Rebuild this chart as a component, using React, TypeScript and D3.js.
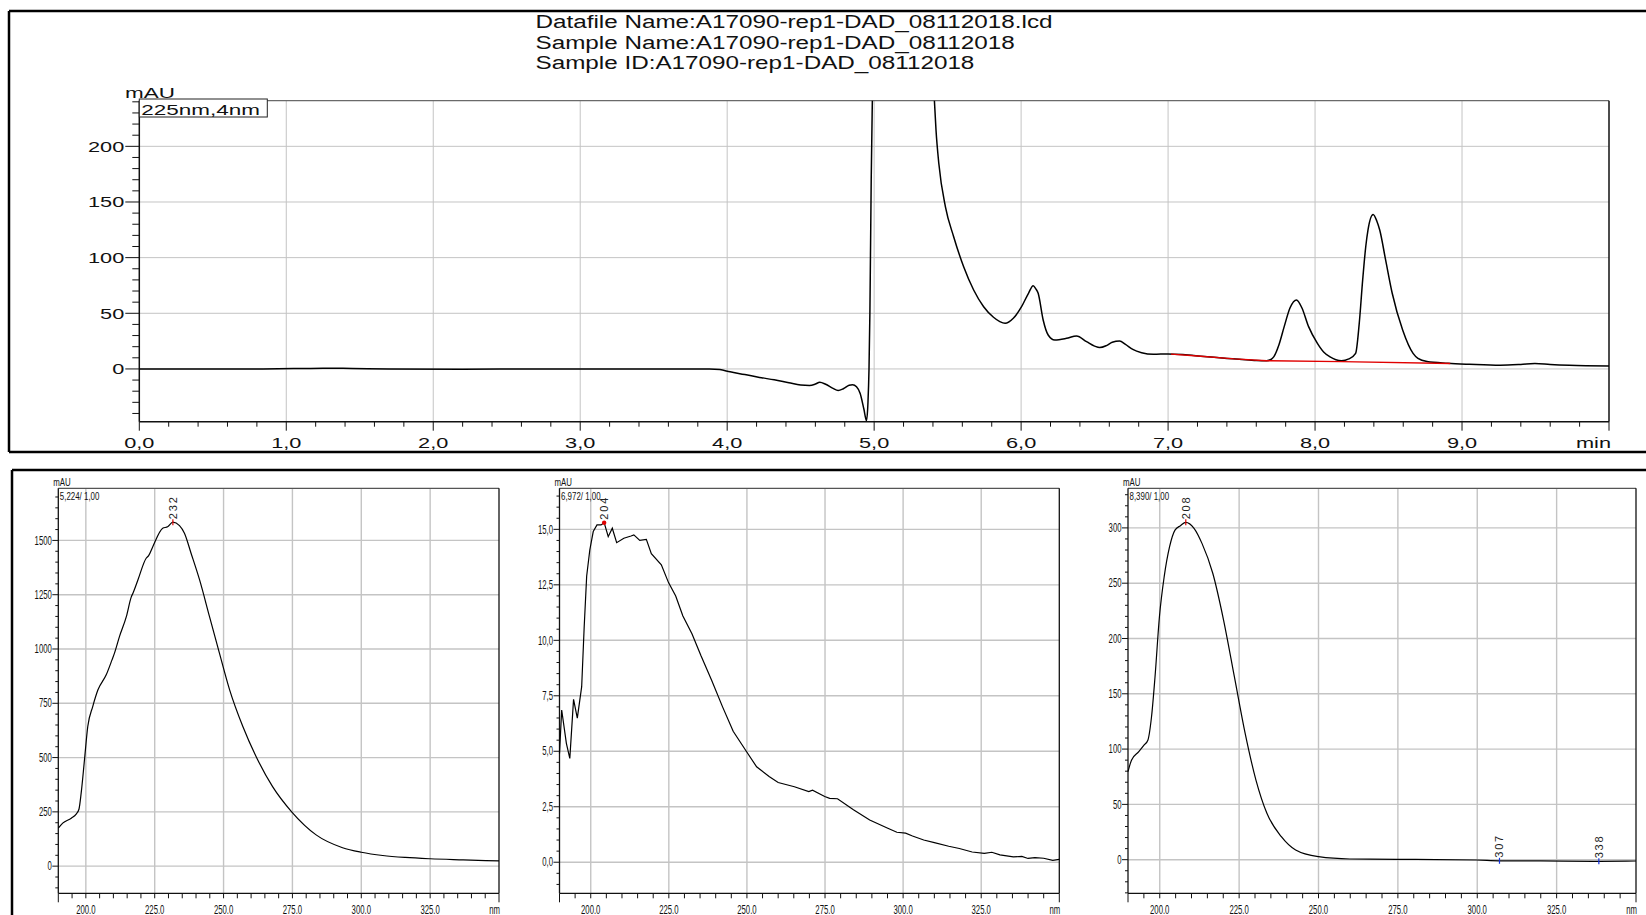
import React from "react";
import * as d3 from "d3";

// ---------- Chromatogram (225nm,4nm) ----------
const chromTime = [0.0, 0.4, 0.8, 1.05, 1.25, 1.45, 1.7, 2.2, 2.7, 3.2, 3.6, 3.88, 3.95, 4.02, 4.12, 4.22, 4.32, 4.42, 4.5, 4.56, 4.6, 4.63, 4.67, 4.72, 4.755, 4.79, 4.83, 4.853, 4.88, 4.905, 4.93, 4.948, 4.958, 4.965, 4.971, 4.98, 4.99, 5.05, 5.15, 5.22, 5.3, 5.36, 5.395, 5.41, 5.421, 5.44, 5.485, 5.541, 5.609, 5.677, 5.745, 5.812, 5.855, 5.891, 5.947, 6.003, 6.05, 6.082, 6.1, 6.116, 6.15, 6.184, 6.229, 6.309, 6.377, 6.445, 6.5, 6.535, 6.58, 6.62, 6.67, 6.71, 6.76, 6.82, 6.9, 7.0, 7.1, 7.246, 7.4, 7.483, 7.6, 7.67, 7.7, 7.72, 7.755, 7.79, 7.83, 7.874, 7.91, 7.956, 8.016, 8.06, 8.099, 8.18, 8.23, 8.276, 8.3, 8.324, 8.345, 8.36, 8.395, 8.42, 8.44, 8.48, 8.525, 8.596, 8.667, 8.7, 8.762, 8.904, 9.05, 9.26, 9.4, 9.496, 9.6, 9.73, 10.0];
const chromAbs = [0.0, 0.0, 0.0, 0.3, 0.7, 0.4, 0.0, -0.2, 0.0, 0.0, 0.0, 0.0, -0.6, -2.6, -5.0, -7.6, -9.8, -12.4, -14.4, -14.8, -13.6, -12.0, -13.8, -17.5, -19.4, -17.8, -14.6, -14.1, -16, -22, -36, -46.4, -30, 0, 50, 170, 260, 900, 1350, 1450, 1100, 500, 290, 241, 214.5, 184.6, 145.7, 118.8, 91.8, 70.9, 55.9, 46.4, 42.5, 41, 45.5, 55.9, 68, 74.8, 72, 68, 44, 30.5, 26, 27.5, 29.6, 24.5, 20.5, 19.2, 21, 24, 25.1, 22, 17.5, 14.6, 13.2, 13.5, 13.0, 11.1, 9.4, 8.7, 7.6, 7.4, 8.5, 11.1, 22, 38, 55, 62, 55, 38, 23, 15, 11.1, 7.4, 9, 14, 40, 80, 110, 124.8, 138.8, 133, 124.8, 98, 68, 35, 14, 9.5, 6.6, 5.1, 4.2, 3.3, 4.0, 4.8, 4.0, 3.3, 2.7];
const baselineTime = [7.02, 7.2, 7.45, 7.67, 8.18, 8.92];
const baselineAbs = [13.3, 11.6, 9.0, 7.4, 6.6, 4.9];
const chromYTickLabels = [0, 50, 100, 150, 200];
const chromXTickLabels = ["0,0", "1,0", "2,0", "3,0", "4,0", "5,0", "6,0", "7,0", "8,0", "9,0"];
const titleLines = [
  "Datafile Name:A17090-rep1-DAD_08112018.lcd",
  "Sample Name:A17090-rep1-DAD_08112018",
  "Sample ID:A17090-rep1-DAD_08112018",
];

// ---------- Spectra ----------
const spec1Nm = [190, 191.6, 194.7, 196.5, 197.5, 198.3, 199.5, 200.7, 202.5, 204.4, 207.4, 209.5, 210.4, 212.2, 214.7, 216.5, 217.1, 218.9, 221.9, 222.8, 224.3, 227.9, 229.7, 231.6, 234.0, 235.8, 238.2, 241.3, 244.9, 248.5, 252.2, 257, 261.8, 267.8, 274.8, 283.6, 293.2, 300, 307.8, 316, 325, 337, 350];
const spec1Abs = [175, 198, 221, 240, 262, 336, 489, 643, 735, 812, 881, 950, 981, 1057, 1149, 1240, 1257, 1318, 1418, 1430, 1471, 1556, 1563, 1584, 1568, 1533, 1441, 1318, 1149, 981, 812, 643, 505, 366, 249, 144, 85, 64, 49, 40, 34, 29, 24];

const spec2Nm = [190, 190.7, 192.2, 193.3, 194.5, 195.7, 197.1, 197.9, 198.7, 199.7, 200.8, 202.0, 203.3, 204.3, 205.6, 206.9, 208.3, 210.6, 212.9, 213.8, 215.7, 217.8, 219.4, 222.6, 224.9, 227.2, 229.5, 232.4, 235.3, 238.7, 242.2, 245.6, 249.9, 253.1, 257.1, 260, 265.2, 269.8, 271, 274.9, 276.5, 279, 284.1, 289.3, 295.1, 298, 300.8, 303, 306.6, 310, 314.6, 318, 322.1, 326, 328.4, 331, 335.3, 338, 340, 342.2, 345, 347.9, 350];
const spec2Abs = [4.9, 6.86, 5.36, 4.68, 7.34, 6.49, 7.91, 10.6, 12.9, 14.07, 14.9, 15.2, 15.2, 15.3, 14.67, 15.05, 14.4, 14.6, 14.7, 14.75, 14.5, 14.55, 13.9, 13.4, 12.6, 12.0, 11.1, 10.3, 9.3, 8.2, 7.0, 5.9, 4.98, 4.3, 3.86, 3.59, 3.4, 3.18, 3.25, 2.96, 2.88, 2.86, 2.36, 1.9, 1.53, 1.35, 1.31, 1.18, 1.0, 0.88, 0.72, 0.62, 0.46, 0.4, 0.45, 0.33, 0.24, 0.26, 0.17, 0.21, 0.18, 0.08, 0.13];

const spec3Nm = [190, 191.1, 193.4, 195.1, 196.25, 197.4, 198.5, 199.9, 201.4, 203.1, 204.8, 206.5, 208.2, 210.8, 213.3, 216.7, 220.1, 223.5, 226.9, 230.3, 233.75, 238.3, 242.8, 250, 259.9, 274.7, 299.7, 307, 320, 338.3, 350];
const spec3Abs = [79.6, 90, 97.6, 103.7, 108, 129, 165, 219.7, 255.9, 283, 298, 302, 305, 299.6, 286, 259, 216.7, 165.5, 114.2, 72, 41.9, 20.8, 8.7, 2.7, 0.6, 0.3, -0.3, -1.0, -1.1, -1.5, -1.2];

const specXTickLabels = ["200.0", "225.0", "250.0", "275.0", "300.0", "325.0"];
const spec1YTickLabels = ["0", "250", "500", "750", "1000", "1250", "1500"];
const spec2YTickLabels = ["0,0", "2,5", "5,0", "7,5", "10,0", "12,5", "15,0"];
const spec3YTickLabels = ["0", "50", "100", "150", "200", "250", "300"];
const specHeaders = ["5,224/ 1,00", "6,972/ 1,00", "8,390/ 1,00"];

const FONT = "'Liberation Sans', Arial, Helvetica, sans-serif";
const GRID = "#c4c4c4";

function parseNum(s: string) {
  return parseFloat(s.replace(",", "."));
}

function STxt(props: { x: number; y: number; sx: number; size: number; anchor?: string; fill?: string; children: any }) {
  const { x, y, sx, size, anchor = "start", fill = "#111", children } = props;
  return (
    <text
      transform={`translate(${x},${y}) scale(${sx},1)`}
      fontFamily={FONT}
      fontSize={size}
      textAnchor={anchor as any}
      fill={fill}
    >
      {children}
    </text>
  );
}

function Chromatogram() {
  const L = 139.3, R = 1609, T = 100.7, B = 421.7;
  const x = d3.scaleLinear().domain([0, 10]).range([L, R]);
  const y = d3.scaleLinear().domain([-47.4, 241]).range([B, T]);
  const pts = chromTime.map((t, i) => [t, chromAbs[i]] as [number, number]);
  const line = d3.line<[number, number]>().x((d) => x(d[0])).y((d) => y(d[1])).curve(d3.curveMonotoneX);
  const bpts = baselineTime.map((t, i) => [t, baselineAbs[i]] as [number, number]);
  const bline = d3.line<[number, number]>().x((d) => x(d[0])).y((d) => y(d[1]));
  const yTicks = d3.range(-40, 241, 10);
  const xTicks = d3.range(0, 10.001, 0.2);
  const sx = 1.45;
  return (
    <g>
      <defs>
        <clipPath id="clipTop">
          <rect x={L} y={T} width={R - L} height={B - T} />
        </clipPath>
      </defs>
      {d3.range(1, 10).map((v) => (
        <line key={"gx" + v} x1={x(v)} x2={x(v)} y1={T} y2={B} stroke={GRID} strokeWidth={1} />
      ))}
      {chromYTickLabels.map((v) => (
        <line key={"gy" + v} x1={L} x2={R} y1={y(v)} y2={y(v)} stroke={GRID} strokeWidth={1} />
      ))}
      <line x1={L} x2={R} y1={T} y2={T} stroke="#6a6a6a" strokeWidth={1.2} />
      <line x1={R} x2={R} y1={T} y2={B} stroke="#111" strokeWidth={1.5} />
      <line x1={L} x2={R} y1={B} y2={B} stroke="#111" strokeWidth={1.5} />
      <line x1={L} x2={L} y1={T} y2={B} stroke="#111" strokeWidth={1.5} />
      {yTicks.map((v) => {
        const major = Math.abs(v % 50) < 1e-6;
        return <line key={"yt" + v} x1={L - (major ? 14 : 7)} x2={L} y1={y(v)} y2={y(v)} stroke="#111" strokeWidth={1} />;
      })}
      {chromYTickLabels.map((v) => (
        <STxt key={"yl" + v} x={L - 15} y={y(v) + 5.5} sx={sx} size={15} anchor="end">{String(v)}</STxt>
      ))}
      {xTicks.map((v, i) => {
        const major = i % 5 === 0;
        return <line key={"xt" + i} x1={x(v)} x2={x(v)} y1={B} y2={B + (major ? 9 : 5)} stroke="#111" strokeWidth={1} />;
      })}
      {chromXTickLabels.map((s) => (
        <STxt key={"xl" + s} x={x(parseNum(s))} y={448} sx={sx} size={15} anchor="middle">{s}</STxt>
      ))}
      <STxt x={1611} y={448} sx={sx} size={15} anchor="end">min</STxt>
      <STxt x={125} y={98} sx={sx} size={15.5}>mAU</STxt>
      <rect x={L} y={99} width={128} height={18} fill="white" stroke="#222" strokeWidth={1} />
      <STxt x={L + 2} y={114.5} sx={sx} size={15.5}>225nm,4nm</STxt>
      <g clipPath="url(#clipTop)">
        <path d={line(pts) || ""} fill="none" stroke="#000" strokeWidth={1.5} />
        <path d={bline(bpts) || ""} fill="none" stroke="#e00000" strokeWidth={1.4} />
      </g>
      {titleLines.map((s, i) => (
        <STxt key={"t" + i} x={535.5} y={28 + i * 20.6} sx={1.29} size={18.8}>{s}</STxt>
      ))}
    </g>
  );
}

type SpecProps = {
  L: number; R: number; nm: number[]; abs: number[]; yDomain: [number, number];
  yTicksAll: number[]; yLabels: string[]; header: string; curve: any;
  peaks: { nm: number; label: string; color: string; kind: "tick" | "dot" }[];
};

function Spectrum(p: SpecProps) {
  const T = 488.3, B = 893.3;
  const x = d3.scaleLinear().domain([190, 350]).range([p.L, p.R]);
  const y = d3.scaleLinear().domain(p.yDomain).range([B, T]);
  const pts = p.nm.map((n, i) => [n, p.abs[i]] as [number, number]);
  const line = d3.line<[number, number]>().x((d) => x(d[0])).y((d) => y(d[1])).curve(p.curve);
  const interp = (n: number) => {
    for (let i = 0; i < p.nm.length - 1; i++) {
      if (n >= p.nm[i] && n <= p.nm[i + 1]) {
        const f = (n - p.nm[i]) / (p.nm[i + 1] - p.nm[i]);
        return p.abs[i] + f * (p.abs[i + 1] - p.abs[i]);
      }
    }
    return p.abs[p.abs.length - 1];
  };
  const xTicks = d3.range(190, 350.001, 5);
  const lsx = 0.62;
  return (
    <g>
      {specXTickLabels.map((s) => (
        <line key={"gx" + s} x1={x(parseNum(s))} x2={x(parseNum(s))} y1={T} y2={B} stroke={GRID} strokeWidth={1.4} />
      ))}
      {p.yLabels.map((s) => (
        <line key={"gy" + s} x1={p.L} x2={p.R} y1={y(parseNum(s))} y2={y(parseNum(s))} stroke={GRID} strokeWidth={1.4} />
      ))}
      <line x1={p.L} x2={p.R} y1={T} y2={T} stroke="#555" strokeWidth={1.2} />
      <line x1={p.R} x2={p.R} y1={T} y2={B} stroke="#111" strokeWidth={1.3} />
      <line x1={p.L} x2={p.R} y1={B} y2={B} stroke="#111" strokeWidth={1.3} />
      <line x1={p.L} x2={p.L} y1={T} y2={B} stroke="#111" strokeWidth={1.3} />
      {p.yTicksAll.map((v, i) => {
        const major = p.yLabels.some((s) => Math.abs(parseNum(s) - v) < 1e-6);
        return <line key={"yt" + i} x1={p.L - (major ? 6 : 3)} x2={p.L} y1={y(v)} y2={y(v)} stroke="#111" strokeWidth={1} />;
      })}
      {p.yLabels.map((s) => (
        <STxt key={"yl" + s} x={p.L - 6.5} y={y(parseNum(s)) + 4.2} sx={lsx} size={12.5} anchor="end">{s}</STxt>
      ))}
      {xTicks.map((v, i) => {
        const end = i === 0 || i === xTicks.length - 1;
        return <line key={"xt" + i} x1={x(v)} x2={x(v)} y1={B} y2={B + (end ? 9 : 5)} stroke="#111" strokeWidth={1} />;
      })}
      {specXTickLabels.map((s) => (
        <STxt key={"xl" + s} x={x(parseNum(s))} y={913.5} sx={lsx} size={12.5} anchor="middle">{s}</STxt>
      ))}
      <STxt x={p.R + 1} y={913.5} sx={lsx} size={12.5} anchor="end">nm</STxt>
      <STxt x={p.L - 5} y={486} sx={0.75} size={10.5}>mAU</STxt>
      <STxt x={p.L + 1.5} y={499.5} sx={0.72} size={11}>{p.header}</STxt>
      <path d={line(pts) || ""} fill="none" stroke="#000" strokeWidth={1.2} />
      {p.peaks.map((pk) => {
        const px = x(pk.nm), py = y(interp(pk.nm));
        return (
          <g key={pk.label}>
            {pk.kind === "tick" ? (
              <line x1={px} x2={px} y1={py - 3} y2={py + 3} stroke={pk.color} strokeWidth={1.2} />
            ) : (
              <circle cx={px} cy={py} r={2.2} fill={pk.color} />
            )}
            <text
              transform={`translate(${px + 4},${py - 3}) rotate(-90)`}
              fontFamily={FONT}
              fontSize={11}
              fill="#222"
              textLength={22}
              lengthAdjust="spacing"
            >
              {pk.label}
            </text>
          </g>
        );
      })}
    </g>
  );
}

export default function App() {
  React.useEffect(() => {
    document.body.style.margin = "0";
    document.body.style.overflow = "hidden";
  }, []);
  return (
    <div style={{ position: "absolute", left: 0, top: 0 }}>
      <svg width={1646} height={915} style={{ display: "block", background: "white" }}>
        <rect x={0} y={0} width={1646} height={915} fill="white" />
        <line x1={9} x2={1646} y1={11} y2={11} stroke="#000" strokeWidth={2.5} />
        <line x1={9} x2={9} y1={11} y2={452} stroke="#000" strokeWidth={2.5} />
        <line x1={9} x2={1646} y1={452} y2={452} stroke="#000" strokeWidth={2.5} />
        <Chromatogram />
        <line x1={12} x2={1646} y1={470} y2={470} stroke="#000" strokeWidth={2.5} />
        <line x1={12} x2={12} y1={470} y2={915} stroke="#000" strokeWidth={2.5} />
        <Spectrum
          L={58.3} R={499} nm={spec1Nm} abs={spec1Abs} yDomain={[-125, 1740]}
          yTicksAll={d3.range(-100, 1701, 50)} yLabels={spec1YTickLabels} header={specHeaders[0]}
          curve={d3.curveMonotoneX}
          peaks={[{ nm: 231.6, label: "232", color: "#e00000", kind: "tick" }]}
        />
        <Spectrum
          L={559.5} R={1059.3} nm={spec2Nm} abs={spec2Abs} yDomain={[-1.4, 16.85]}
          yTicksAll={d3.range(-1, 16.51, 0.5)} yLabels={spec2YTickLabels} header={specHeaders[1]}
          curve={d3.curveLinear}
          peaks={[{ nm: 204.3, label: "204", color: "#e00000", kind: "dot" }]}
        />
        <Spectrum
          L={1128} R={1636} nm={spec3Nm} abs={spec3Abs} yDomain={[-30.4, 335.8]}
          yTicksAll={d3.range(-30, 331, 10)} yLabels={spec3YTickLabels} header={specHeaders[2]}
          curve={d3.curveMonotoneX}
          peaks={[
            { nm: 208.2, label: "208", color: "#e00000", kind: "tick" },
            { nm: 307, label: "307", color: "#1030e0", kind: "tick" },
            { nm: 338.3, label: "338", color: "#1030e0", kind: "tick" },
          ]}
        />
      </svg>
    </div>
  );
}
